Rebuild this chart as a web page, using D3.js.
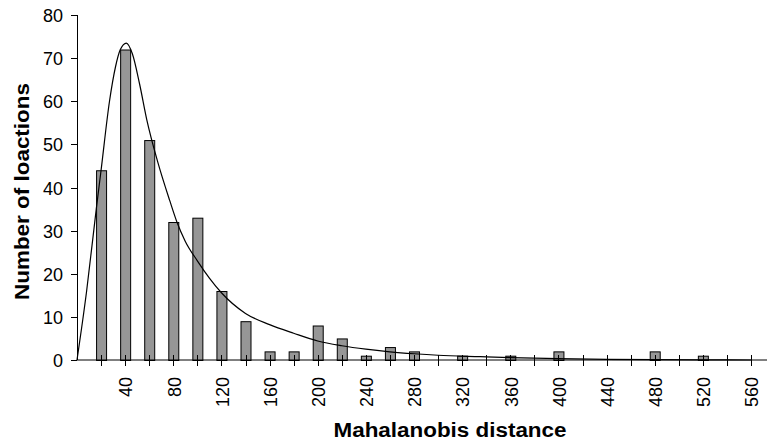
<!DOCTYPE html>
<html>
<head>
  <meta charset="utf-8">
  <title>Mahalanobis distance</title>
  <style>
    body { margin: 0; background: #fff; }
    text { font-family: "Liberation Sans", Arial, sans-serif; fill: #000; }
  </style>
</head>
<body>

<svg width="767" height="446" viewBox="0 0 767 446"></svg>

<script src="https://d3js.org/d3.v7.min.js"></script>
<script>
// histogram categories (bin centres) and counts
const categories = [20, 40, 60, 80, 100, 120, 140, 160, 180, 200, 220, 240, 260, 280,
  300, 320, 340, 360, 380, 400, 420, 440, 460, 480, 500, 520, 540, 560];
const counts = [44, 72, 51, 32, 33, 16, 9, 2, 2, 8, 5, 1, 3, 2,
  0, 1, 0, 1, 0, 2, 0, 0, 0, 2, 0, 1, 0, 0];

// fitted curve
const curveX = [0, 8, 16, 20, 27, 32, 36, 41, 46, 52, 58, 67, 77, 83, 90, 100, 110, 120,
  140, 160, 180, 200, 220, 240, 260, 280, 300, 335, 360, 400, 440, 480, 520, 560];
const curveY = [0, 16, 35, 44, 60, 68, 72, 73.5, 71, 64, 55.7, 46, 37, 32, 27.5, 23, 19, 15.6,
  10.8, 8.2, 6.2, 4.4, 3.3, 2.5, 1.9, 1.45, 1.1, 0.77, 0.55, 0.3, 0.15, 0.07, 0.02, 0];

const yTicks = [0, 10, 20, 30, 40, 50, 60, 70, 80];
const xTicks = d3.range(20, 561, 20);
const xLabels = d3.range(40, 561, 40);

function main () {
  const svg = d3.select('svg');
  const left = 77;
  const bottom = 360;

  const x = d3.scaleLinear().domain([0, 560]).range([left, 751]);
  const y = d3.scaleLinear().domain([0, 80]).range([bottom, 15]);
  const barW = 10;

  // bars
  const bars = categories.map((c, i) => ({ c, v: counts[i] })).filter(d => d.v > 0);
  svg.selectAll('.bar').data(bars).join('rect')
    .attr('class', 'bar')
    .attr('x', d => x(d.c) - barW / 2 + 0.5)
    .attr('y', d => y(d.v) + 0.5)
    .attr('width', barW)
    .attr('height', d => bottom - y(d.v))
    .attr('fill', '#969696')
    .attr('stroke', '#000')
    .attr('stroke-width', 1);

  // x axis
  svg.append('line')
    .attr('x1', left).attr('x2', 767)
    .attr('y1', bottom).attr('y2', bottom)
    .attr('stroke', '#000');
  svg.selectAll('.xt').data(xTicks).join('line')
    .attr('class', 'xt')
    .attr('x1', d => Math.round(x(d)) + 0.5).attr('x2', d => Math.round(x(d)) + 0.5)
    .attr('y1', bottom - 5).attr('y2', bottom + 6)
    .attr('stroke', '#000');
  svg.selectAll('.xl').data(xLabels).join('text')
    .attr('class', 'xl')
    .attr('font-size', '18px')
    .attr('text-anchor', 'end')
    .attr('dy', '0.35em')
    .attr('transform', d => `translate(${x(d) + 1},377) rotate(-90)`)
    .text(d => d);

  // y axis
  svg.append('line')
    .attr('x1', left + 0.5).attr('x2', left + 0.5)
    .attr('y1', y(80)).attr('y2', bottom)
    .attr('stroke', '#000');
  const yt = svg.selectAll('.yt').data(yTicks).join('g')
    .attr('class', 'yt')
    .attr('transform', d => `translate(0,${Math.round(y(d)) + 0.5})`);
  yt.append('line')
    .attr('x1', left - 6).attr('x2', left)
    .attr('stroke', '#000');
  yt.append('text')
    .attr('font-size', '18px')
    .attr('text-anchor', 'end')
    .attr('dy', '0.35em')
    .attr('x', 63)
    .text(d => d);

  // fitted curve
  const line = d3.line()
    .x(d => x(d[0]))
    .y(d => y(d[1]))
    .curve(d3.curveMonotoneX);
  svg.append('path')
    .datum(curveX.map((c, i) => [c, curveY[i]]))
    .attr('d', line)
    .attr('fill', 'none')
    .attr('stroke', '#000')
    .attr('stroke-width', 1.2);

  // titles
  svg.append('text')
    .attr('font-size', '20px')
    .attr('font-weight', 'bold')
    .attr('text-anchor', 'middle')
    .attr('x', 450)
    .attr('y', 437)
    .attr('textLength', 233)
    .attr('lengthAdjust', 'spacingAndGlyphs')
    .text('Mahalanobis distance');
  svg.append('text')
    .attr('font-size', '20px')
    .attr('font-weight', 'bold')
    .attr('text-anchor', 'middle')
    .attr('transform', 'translate(29,191.5) rotate(-90)')
    .attr('textLength', 217)
    .attr('lengthAdjust', 'spacingAndGlyphs')
    .text('Number of loactions');
}
main();
</script>

</body>
</html>
